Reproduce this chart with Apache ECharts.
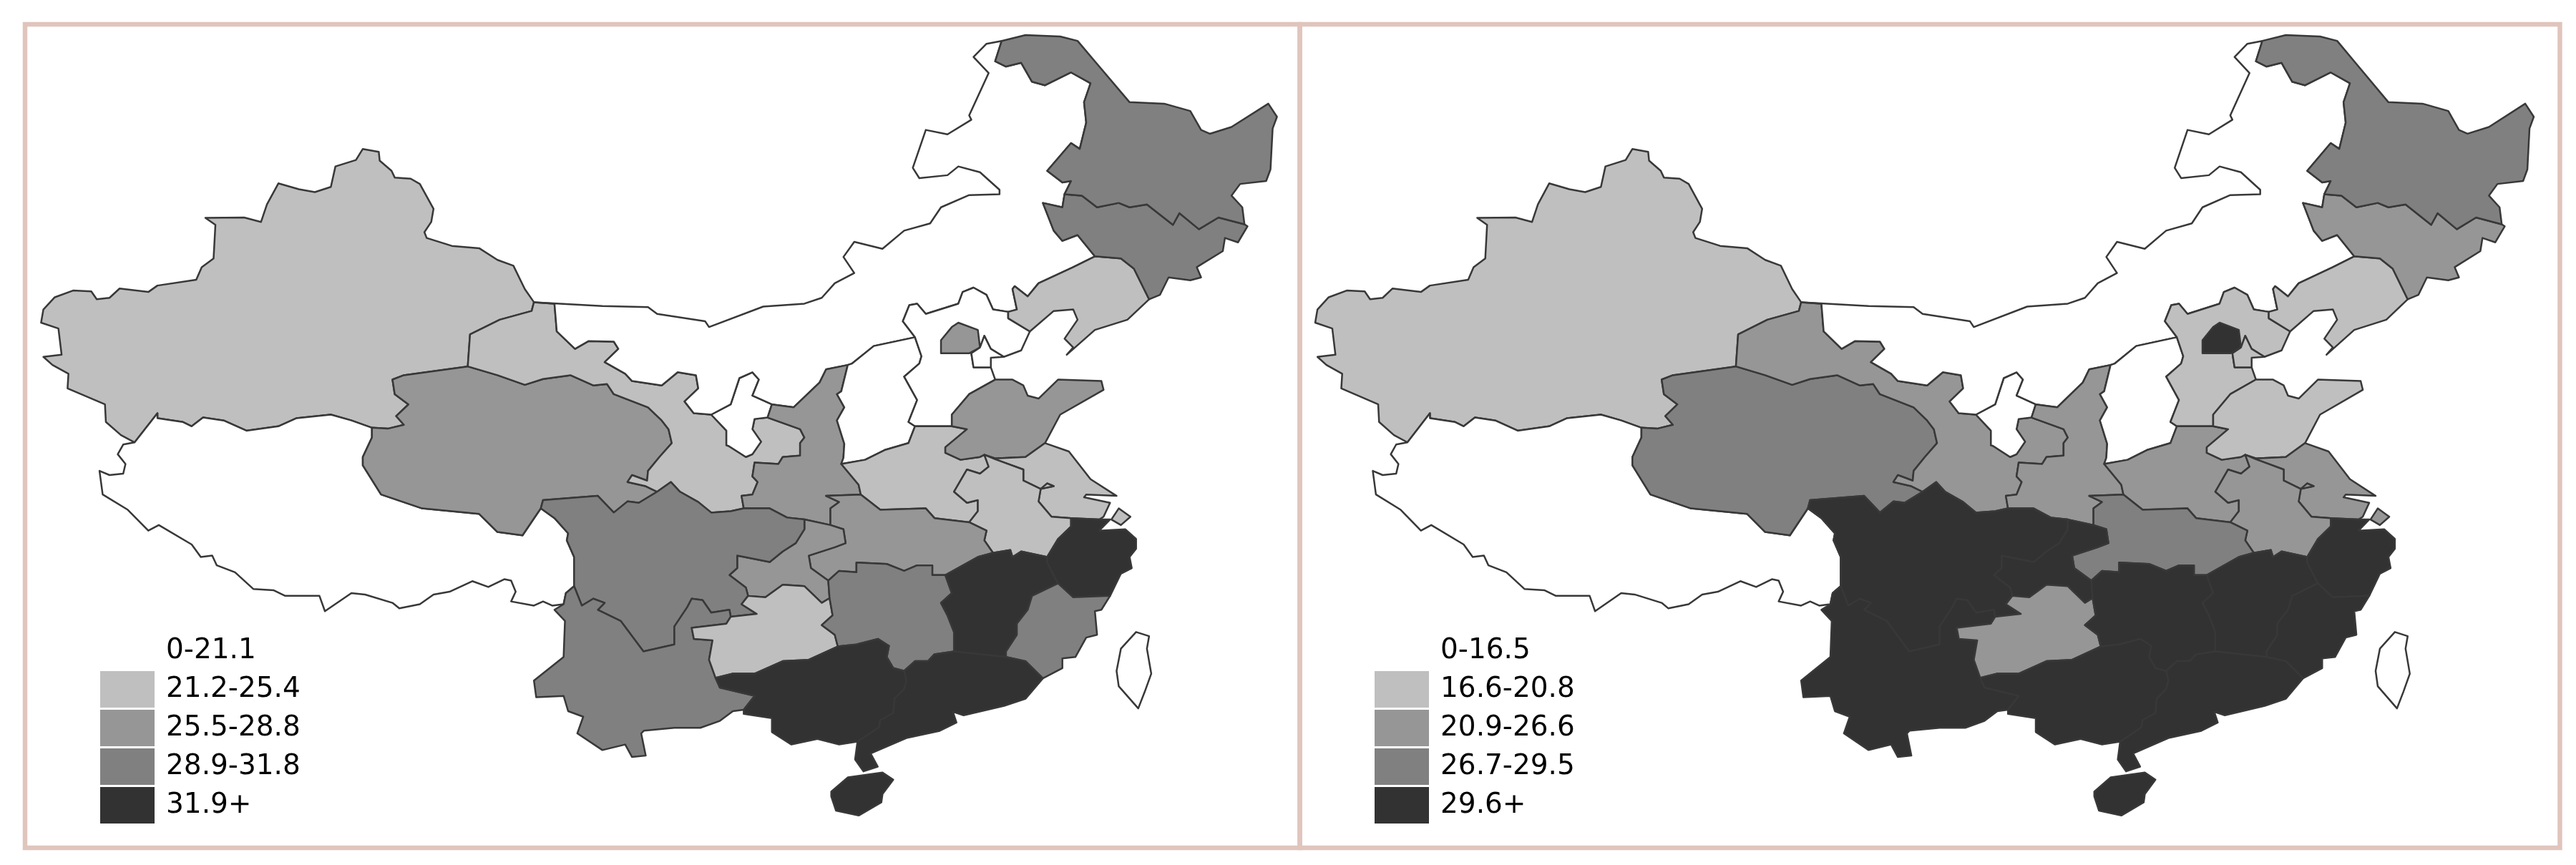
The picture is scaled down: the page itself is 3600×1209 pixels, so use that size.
<!DOCTYPE html>
<html>
<head>
<meta charset="utf-8">
<script src="https://cdn.jsdelivr.net/npm/echarts@6/dist/echarts.min.js"></script>
<style>
html,body{margin:0;padding:0;background:#fff;}
#main{width:3600px;height:1209px;}
</style>
</head>
<body>
<div id="main"></div>
<script>
// provinces and the class each one falls in (index into the legend lists)
var provinces = ['Xinjiang','Xizang','Qinghai','Gansu','Ningxia','Neimenggu','Shaanxi','Shanxi','Hebei','Beijing','Tianjin','Henan','Shandong','Jiangsu','Anhui','Shanghai','Hubei','Chongqing','Sichuan','Yunnan','Guizhou','Hunan','Jiangxi','Zhejiang','Fujian','Guangdong','Guangxi','Hainan','Liaoning','Jilin','Heilongjiang','Taiwan'];
var classLeft  = [1,0,2,1,0,0,2,0,0,2,0,1,2,1,1,1,2,2,3,3,1,3,4,4,3,4,4,4,1,3,3,0];
var classRight = [1,0,3,2,0,0,2,0,1,4,1,2,1,2,2,2,3,4,4,4,2,4,4,4,4,4,4,4,1,2,3,0];
var labelsLeft  = ['0-21.1','21.2-25.4','25.5-28.8','28.9-31.8','31.9+'];
var labelsRight = ['0-16.5','16.6-20.8','20.9-26.6','26.7-29.5','29.6+'];
var classColors = ['#ffffff','#bfbfbf','#969696','#808080','#323232'];

function crop(ox, oy, sx, sy) {
	return function(list) {
		var out = [];
		for (var i = 0; i < list.length; i += 2) {
			out.push([ox + list[i] / sx, oy + list[i + 1] / sy]);
		}
		return out;
	};
}
var z1 = crop(0, 0, 1.568, 2.45);
var z2 = crop(900, 0, 1.6505, 2.45);
var z3 = crop(0, 600, 1.568, 2.575);
var z4 = crop(900, 600, 1.6505, 2.575);
var z5 = crop(1100, 880, 3, 3);
function rev(arc) { return arc.slice().reverse(); }
function join() {
	var out = [];
	for (var i = 0; i < arguments.length; i++) out = out.concat(arguments[i]);
	return out;
}

// shared borders
var xj_n = z1([1170,1035,1150,990,1125,910,1090,890,1050,850,990,842,935,815,930,795,945,760,950,715,920,630,900,612,865,608,858,585,832,550,830,520,795,510,780,548,735,570,725,640,690,658,655,648,610,628,585,700,572,760,535,745,450,746,472,770,468,885,442,915,430,958,345,978,325,1000,262,988,240,1020,212,1025,200,998,160,995,120,1018,95,1060,90,1105,128,1125,135,1215,95,1222,115,1250,150,1280,148,1330,230,1385,232,1445,265,1490,295,1515]);
var xj_xz = z1([295,1515,345,1415,345,1432,400,1445,420,1460,445,1430,490,1440,540,1475,610,1460,650,1432,725,1420,770,1440,815,1465]);
var xj_qh = z1([815,1465,850,1468,885,1455,868,1425,895,1385,865,1350,860,1300,885,1285,1025,1255]);
var xj_gs = z1([1025,1255,1030,1145,1095,1095,1165,1065,1170,1035]);
var xz_sw = z3([295,47,270,55,258,90,275,125,270,160,240,165,218,150,225,235,280,290,325,365,348,345,420,415,440,460,465,455,475,490,515,515,555,575,600,580,625,600,700,600,712,655,770,590,800,595,860,625,875,645,920,630,950,595,985,585,1035,547,1070,568,1105,540,1120,545,1130,585,1120,620,1170,635,1190,620,1210,635,1235,630]);
var yn_xz = z3([1258,565,1240,590,1235,630]);
var sc_xz = z3([1258,565,1258,460,1242,400,1245,375,1215,320,1185,285]);
var xz_qh = join(z3([1185,285,1145,382,1090,370,1050,305,925,285,835,235,795,130,795,100,815,30]), z1([815,1465]));
var qh_gs = join(z1([1025,1255,1090,1285,1150,1318,1190,1298,1250,1285,1300,1320,1330,1315,1345,1350,1420,1395,1450,1440]), z3([1465,0,1472,50,1445,100,1420,150,1418,185,1385,165,1375,190,1415,205,1440,225]));
var qh_sc = z3([1440,225,1400,265,1375,260,1345,300,1310,240,1190,255,1185,285]);
var gs_nm = join(z1([1170,1035,1215,1040,1220,1135,1260,1195,1290,1168,1345,1170,1355,1195,1325,1240,1370,1280,1385,1305,1450,1320,1485,1275,1525,1285,1530,1330,1500,1375,1520,1415]), z2([155,1420]));
var nx_gs = join(z2([155,1420,190,1475,190,1525]), z4([195,60,235,100,250,90,270,45,250,0]), z2([255,1435,285,1430]));
var nx_nm = z2([155,1420,200,1385,220,1295,250,1275,265,1300,250,1355,295,1385]);
var nx_sn = z2([295,1385,285,1430]);
var gs_sn = join(z2([285,1430,360,1470]), z4([370,30,360,50,360,95,320,100,310,125,255,120,250,170,262,190,250,235,225,240,230,285]));
var gs_sc = join(z3([1440,225,1470,190,1490,225,1530,262]), z4([155,300,200,295,230,285]));
var sn_sc = z4([370,325,330,318,290,285,230,285]);
var nm_n = join(z1([1170,1035,1320,1048,1420,1052,1440,1075,1545,1100]), z2([150,1120,275,1050,370,1040,410,1020,440,970,485,935,460,880,485,828,550,852,600,790,660,765,685,710,750,668,820,665,820,650,775,590,725,570,700,600,635,610,620,575,650,445,700,460,755,410,750,395,795,250,760,195,790,150,825,140]));
var hlj_nm = z2([825,140,810,210,835,228,870,215,895,280,925,292,985,248,1030,285,1015,350,1020,420,1005,510,985,490,930,585,965,625,985,620,970,665]);
var jl_nm = z2([970,665,965,710,920,695,945,790,965,825,1000,805,1040,878]);
var ln_nm = z2([1040,878,990,915,910,970,885,1015,855,980,850,990,860,1060,840,1068]);
var he_nm = z2([840,1068,805,1060,790,1010,760,985,735,1000,725,1040,650,1075,630,1040,612,1045,597,1100,625,1155]);
var sx_nm = z2([625,1155,530,1185,480,1245,470,1250]);
var sn_nm = z2([470,1250,420,1265,405,1310,345,1395,295,1385]);
var sn_sx = join(z2([470,1250,455,1340,445,1350,462,1395,445,1440,462,1520,460,1568]), z4([455,125]));
var sn_ha = z4([455,125,495,200,500,235]);
var sn_hb = z4([500,235,420,240,450,262,430,285,430,345]);
var sn_cq = z4([430,345,370,325]);
var he_sx = z2([625,1155,640,1220,635,1245,600,1290,630,1370,610,1445,625,1460]);
var sx_ha = join(z4([455,125,510,110,555,75,610,50]), z2([625,1460]));
var he_ha = z2([625,1460,710,1460]);
var he_sd = z2([710,1460,710,1420,750,1350,810,1300]);
var he_coast = z2([810,1300,800,1258,760,1258,755,1210,775,1190,785,1150,800,1195,830,1222,870,1200,890,1135,840,1090,840,1068]);
var ha_sd = join(z2([710,1460,745,1470]), z4([695,65,695,85,730,110,775,100,785,92]));
var sd_n = join(z2([810,1300,850,1300,875,1320,885,1355,910,1365,955,1300,1055,1305,1060,1335,960,1420]), z4([925,50]));
var sd_js = z4([925,50,880,100,810,105,785,92]);
var ha_ah = z4([785,92,795,135,775,160,745,145,715,225,745,265,770,255,770,295,750,335]);
var ah_js = z4([785,92,810,108,875,145,875,185,915,215,945,205,930,195,915,215,910,260,940,315,985,320]);
var js_coast = z4([925,50,980,80,1030,180,1090,240,1020,235,1015,245,1075,265,1060,315,1050,325,985,320]);
var ah_zj = z4([930,460,955,395,985,350,985,320]);
var ah_jx = z4([930,460,870,440,850,460,845,435,805,445]);
var ah_hb = z4([805,445,785,400,790,365,750,335]);
var ha_hb = z4([750,335,670,320,650,285,545,290,500,235]);
var cq_hb = z4([430,345,460,360,465,410,440,425,380,455,385,500,425,545]);
var hn_hb = z4([425,545,450,510,490,515,490,480,560,485,600,510,630,490,665,490,665,525,695,525]);
var hb_jx = z4([695,525,770,460,805,445]);
var cq_sc = z4([370,325,370,360,350,410,320,440,290,478,215,455,215,500,197,525,235,570,240,600]);
var cq_gz = z4([240,600,280,605,320,560,370,565,410,625,428,608]);
var cq_hn = z4([428,608,425,545]);
var sc_gz = z4([200,675,260,665,225,630,240,600]);
var sc_yn = join(z3([1258,565,1275,635,1300,610,1325,625,1310,650,1360,690,1410,800]), z4([70,775,70,710,100,640,110,610,135,615,155,660,197,650,200,675]));
var yn_s = join(z3([1235,630,1215,650,1238,690,1235,820,1170,905,1175,965,1235,960,1245,1015,1278,1035,1265,1095,1320,1155,1370,1135,1385,1180,1415,1175,1405,1095]), z4([0,1085,70,1075,130,1075,175,1050,205,1015,230,1010]));
var gx_yn = z4([230,1010,255,960,175,930,165,895]);
var gz_yn = z4([165,895,150,830,158,760,115,755,110,715,190,700,200,675]);
var gz_hn = z4([428,608,435,670,410,705,440,740,447,782]);
var gz_gx = z4([447,782,380,830,320,835,255,880,205,880,165,895]);
var hn_jx = z4([695,525,710,590,685,625,700,670,715,730,715,800]);
var hn_gd = z4([715,800,670,810,655,835,625,835,600,870]);
var hn_gx = z4([600,870,575,860,560,820,565,780,540,755,490,775,447,782]);
var jx_zj = z4([930,460,930,480,955,555]);
var jx_fj = z4([955,555,895,600,885,650,860,700,860,740,835,800,835,820]);
var jx_gd = z4([835,820,715,800]);
var zj_coast = z4([985,320,1050,325,1075,325,1050,365,1110,360,1135,395,1135,430,1120,460,1125,500,1100,520,1075,600]);
var zj_fj = z4([955,555,990,605,1075,600]);
var fj_coast = z4([1075,600,1055,650,1040,655,1045,740,1020,750,995,820,965,825,965,860,920,897]);
var fj_gd = z4([920,897,880,835,835,820]);
var gd_coast = join(z4([920,897]), z5([1000,290,910,320,740,360,695,345,710,390,640,425,500,455,350,520,380,575,320,595,285,545,295,470]));
var gd_gx = join(z5([295,470,340,440,385,410,390,380,445,350,450,290,490,250,500,215]), z4([600,870]));
var gx_coast = join(z4([230,1010,230,1025,295,1040,295,1090,340,1135,400,1115,450,1135]), z5([295,470]));
var ln_coast = z2([840,1068,840,1090,890,1135,945,1065,990,1060,1000,1095,970,1160,990,1190,975,1215,1040,1130,1115,1095,1165,1025]);
var jl_ln = z2([1165,1025,1130,920,1100,885,1040,878]);
var hlj_jl = z2([970,665,1010,670,1045,710,1095,695,1120,710,1160,700,1220,770,1235,730,1280,785,1325,745,1385,768]);
var jl_e = z2([1385,768,1392,775,1370,830,1340,815,1335,860,1275,915,1285,950,1260,960,1210,950,1190,1010,1165,1025]);
var hlj_e = z2([825,140,880,120,960,125,1000,140,1040,210,1120,350,1200,355,1260,380,1285,445,1305,458,1355,435,1440,355,1460,400,1450,440,1445,580,1435,620,1375,630,1355,670,1380,710,1385,768]);

// province rings built from the borders above
var rings = {
	Xinjiang: join(xj_n, xj_xz, xj_qh, xj_gs),
	Xizang: join(xz_sw, rev(yn_xz), sc_xz, xz_qh, rev(xj_xz)),
	Qinghai: join(xj_qh, qh_gs, qh_sc, xz_qh),
	Gansu: join(gs_nm, nx_gs, gs_sn, rev(gs_sc), rev(qh_gs), xj_gs),
	Ningxia: join(nx_gs, rev(nx_sn), rev(nx_nm)),
	Neimenggu: join(nm_n, hlj_nm, jl_nm, ln_nm, he_nm, sx_nm, sn_nm, rev(nx_nm), rev(gs_nm)),
	Shaanxi: join(sn_sx, sn_ha, sn_hb, sn_cq, sn_sc, rev(gs_sn), rev(nx_sn), rev(sn_nm)),
	Shanxi: join(sx_nm, sn_sx, sx_ha, rev(he_sx)),
	Hebei: join(he_nm, he_sx, he_ha, he_sd, he_coast),
	Beijing: z2([725,1105,770,1130,775,1190,750,1210,685,1210,685,1165,710,1120]),
	Tianjin: z2([755,1210,775,1190,785,1150,800,1195,830,1222,800,1225,800,1258,760,1258]),
	Henan: join(sx_ha, he_ha, ha_sd, ha_ah, ha_hb, rev(sn_ha)),
	Shandong: join(sd_n, sd_js, rev(ha_sd), he_sd),
	Jiangsu: join(js_coast, rev(ah_js), rev(sd_js)),
	Anhui: join(ah_js, rev(ah_zj), ah_jx, ah_hb, rev(ha_ah)),
	Shanghai: z4([1095,285,1122,315,1100,345,1078,325]),
	Hubei: join(ha_hb, sn_hb, cq_hb, hn_hb, hb_jx, ah_hb),
	Chongqing: join(sn_cq, cq_sc, cq_gz, cq_hn, rev(cq_hb)),
	Sichuan: join(sn_sc, rev(gs_sc), qh_sc, rev(sc_xz), sc_yn, sc_gz, rev(cq_sc)),
	Yunnan: join(yn_xz, yn_s, gx_yn, gz_yn, rev(sc_yn)),
	Guizhou: join(sc_gz, cq_gz, gz_hn, gz_gx, gz_yn),
	Hunan: join(hn_hb, hn_jx, hn_gd, hn_gx, rev(gz_hn), cq_hn),
	Jiangxi: join(hb_jx, rev(ah_jx), jx_zj, jx_fj, jx_gd, rev(hn_jx)),
	Zhejiang: join(ah_zj, zj_coast, rev(zj_fj), rev(jx_zj)),
	Fujian: join(zj_fj, fj_coast, fj_gd, rev(jx_fj)),
	Guangdong: join(rev(hn_gd), rev(jx_gd), rev(fj_gd), gd_coast, gd_gx),
	Guangxi: join(hn_gx, gz_gx, rev(gx_yn), gx_coast, gd_gx),
	Hainan: z5([185,680,255,620,400,600,445,630,400,690,395,725,300,780,205,760,185,700]),
	Liaoning: join(ln_nm, ln_coast, jl_ln),
	Jilin: join(hlj_jl, jl_e, jl_ln, rev(jl_nm)),
	Heilongjiang: join(hlj_e, rev(hlj_jl), rev(hlj_nm)),
	Taiwan: z4([1135,730,1165,745,1160,790,1170,880,1155,945,1140,1005,1095,925,1090,870,1100,790])
};

var geoJson = {
	type: 'FeatureCollection',
	features: provinces.map(function(name) {
		var ring = rings[name].slice();
		ring.push(ring[0]);
		return {type: 'Feature', properties: {name: name}, geometry: {type: 'Polygon', coordinates: [ring]}};
	})
};
echarts.registerMap('chinaLeft', geoJson);
echarts.registerMap('chinaRight', geoJson);

var flatProjection = {
	project: function(p) { return [p[0], p[1]]; },
	unproject: function(p) { return [p[0], p[1]]; }
};

function mapSeries(mapName, classes, box) {
	return {
		type: 'map',
		map: mapName,
		projection: flatProjection,
		aspectScale: 1,
		left: box[0], top: box[1], width: box[2], height: box[3],
		roam: false,
		silent: true,
		selectedMode: false,
		label: {show: false},
		itemStyle: {areaColor: '#fff', borderColor: '#383838', borderWidth: 2.5, borderJoin: 'round'},
		data: provinces.map(function(name, i) { return {name: name, value: classes[i]}; })
	};
}

function legend(seriesIndex, labels, left) {
	return {
		type: 'piecewise',
		seriesIndex: seriesIndex,
		left: left, top: 884,
		padding: 0,
		orient: 'vertical',
		inverse: true,
		align: 'left',
		itemWidth: 76, itemHeight: 51, itemGap: 3, textGap: 16,
		itemSymbol: 'rect',
		selectedMode: false,
		hoverLink: false,
		textStyle: {fontFamily: 'DejaVu Sans', fontSize: 39, color: '#000'},
		pieces: labels.map(function(label, i) { return {value: i, label: label, color: classColors[i]}; })
	};
}

var myChart = echarts.init(document.getElementById('main'), null, {renderer: 'canvas'});
var option = {
	animation: false,
	backgroundColor: '#fff',
	graphic: [
		{type: 'rect', silent: true, shape: {x: 35, y: 34, width: 1781.5, height: 1151}, style: {fill: 'none', stroke: '#e0c5bd', lineWidth: 6.5}},
		{type: 'rect', silent: true, shape: {x: 1816.5, y: 34, width: 1761, height: 1151}, style: {fill: 'none', stroke: '#e0c5bd', lineWidth: 6.5}}
	],
	visualMap: [legend(0, labelsLeft, 140), legend(1, labelsRight, 1921)],
	series: [
		mapSeries('chinaLeft', classLeft, [57.4, 49, 1727.2, 1090.8]),
		mapSeries('chinaRight', classRight, [1838, 49, 1703, 1090.8])
	]
};
myChart.setOption(option);
</script>
</body>
</html>
